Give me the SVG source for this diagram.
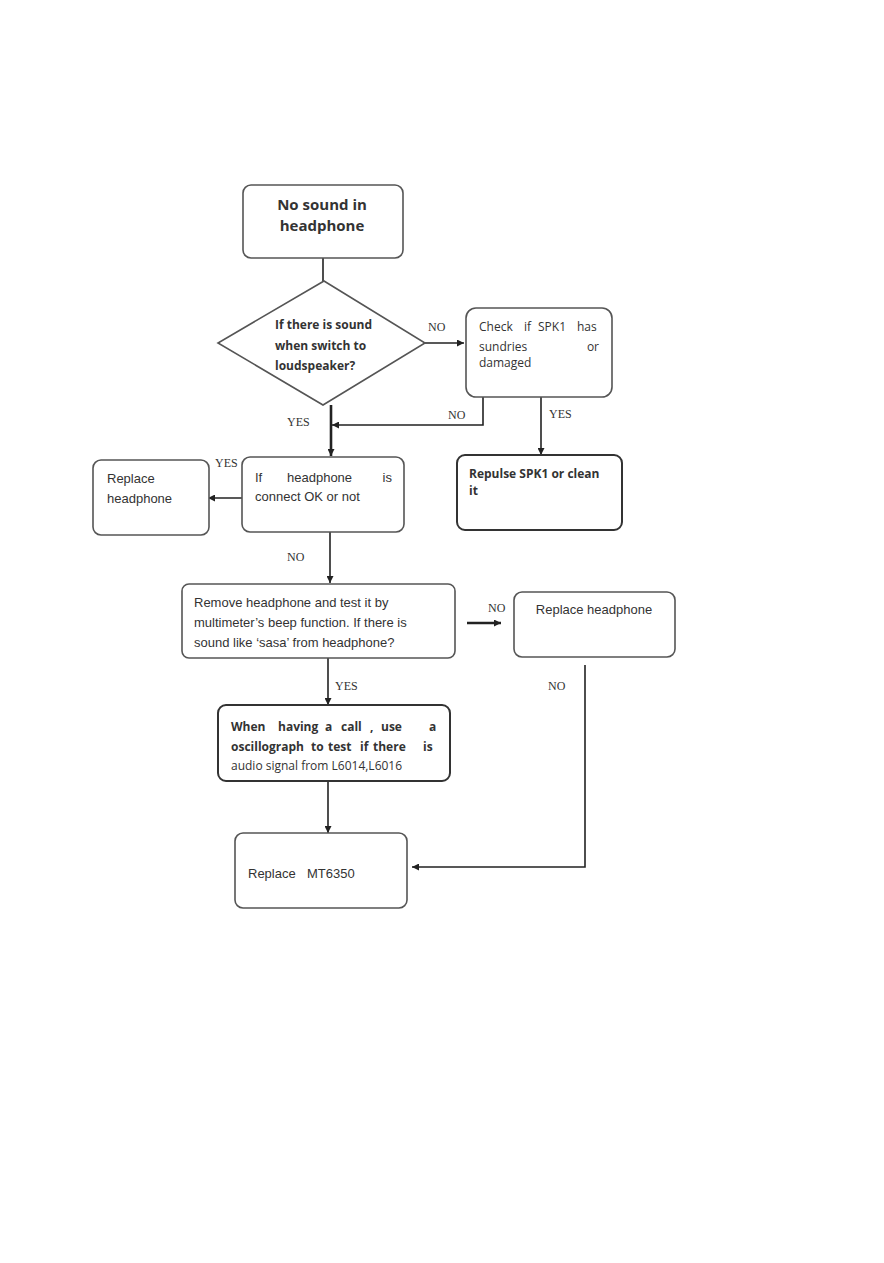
<svg xmlns="http://www.w3.org/2000/svg" width="884" height="1263" viewBox="0 0 884 1263">
<defs>
<marker id="ah" viewBox="0 0 10 10" refX="10" refY="5" markerWidth="7" markerHeight="7" markerUnits="userSpaceOnUse" orient="auto"><path d="M0,0 L10,5 L0,10 z" fill="#222"/></marker>
<style>
.box{fill:#fff;stroke:#555;stroke-width:1.6}
.dark{fill:#fff;stroke:#333;stroke-width:2}
.ln{fill:none;stroke:#222;stroke-width:1.6}
.thk{fill:none;stroke:#222;stroke-width:2.6}
.lbl{font-family:"Liberation Serif",serif;font-size:12px;fill:#333}
.ar{font-family:"Liberation Sans",Arial,sans-serif;font-size:13px;fill:#333}
.cb{font-family:"Open Sans","Noto Sans",sans-serif;font-size:12px;fill:#333}
.cbb{font-family:"Open Sans","Noto Sans",sans-serif;font-size:12px;font-weight:bold;fill:#333}
</style>
</defs>
<rect width="884" height="1263" fill="#fff"/>
<g id="connectors">
<line class="ln" x1="323" y1="258" x2="323" y2="281"/>
<line class="ln" x1="425" y1="343" x2="464" y2="343" marker-end="url(#ah)"/>
<line class="thk" x1="331" y1="405" x2="331" y2="456" marker-end="url(#ah)"/>
<polyline class="ln" points="483,397 483,425 332,425" marker-end="url(#ah)"/>
<line class="ln" x1="541" y1="397" x2="541" y2="455" marker-end="url(#ah)"/>
<line class="ln" x1="242" y1="498" x2="208" y2="498" marker-end="url(#ah)"/>
<line class="ln" x1="330" y1="532" x2="330" y2="583" marker-end="url(#ah)"/>
<line class="thk" x1="467" y1="623" x2="501" y2="623" marker-end="url(#ah)"/>
<line class="ln" x1="328" y1="658" x2="328" y2="705" marker-end="url(#ah)"/>
<line class="ln" x1="328" y1="781" x2="328" y2="833" marker-end="url(#ah)"/>
<polyline class="ln" points="585,665 585,867 412,867" marker-end="url(#ah)"/>
<text class="lbl" x="428" y="331">NO</text>
<text class="lbl" x="448" y="419">NO</text>
<text class="lbl" x="287" y="426">YES</text>
<text class="lbl" x="549" y="418">YES</text>
<text class="lbl" x="215" y="467">YES</text>
<text class="lbl" x="287" y="561">NO</text>
<text class="lbl" x="488" y="612">NO</text>
<text class="lbl" x="335" y="690">YES</text>
<text class="lbl" x="548" y="690">NO</text>
</g>
<g id="n1">
<rect class="box" x="243" y="185" width="160" height="73" rx="8"/>
<text x="322" y="210" text-anchor="middle" font-family="Open Sans,Noto Sans,sans-serif" font-size="15" font-weight="bold" fill="#333">No sound in</text>
<text x="322" y="231" text-anchor="middle" font-family="Open Sans,Noto Sans,sans-serif" font-size="15" font-weight="bold" fill="#333">headphone</text>
</g>
<g id="n2">
<polygon class="box" points="324,281 425,343 323,405 218,343"/>
<text class="cbb" x="275" y="329" font-size="10">If there is sound</text>
<text class="cbb" x="275" y="350" font-size="10">when switch to</text>
<text class="cbb" x="275" y="370" font-size="10">loudspeaker?</text>
</g>
<g id="n3">
<rect class="box" x="466" y="308" width="146" height="89" rx="10"/>
<text class="cb" y="331"><tspan x="479">Check</tspan><tspan x="524">if</tspan><tspan x="538">SPK1</tspan><tspan x="577">has</tspan></text>
<text class="cb" x="479" y="351">sundries</text>
<text class="cb" x="599" y="351" text-anchor="end">or</text>
<text class="cb" x="479" y="367">damaged</text>
</g>
<g id="n4">
<rect class="dark" x="457" y="455" width="165" height="75" rx="8"/>
<text class="cbb" x="469" y="478">Repulse SPK1 or clean</text>
<text class="cbb" x="469" y="495">it</text>
</g>
<g id="n5">
<rect class="box" x="242" y="457" width="162" height="75" rx="8"/>
<text class="ar" x="255" y="482">If</text>
<text class="ar" x="287" y="482">headphone</text>
<text class="ar" x="392" y="482" text-anchor="end">is</text>
<text class="ar" x="255" y="501">connect OK or not</text>
</g>
<g id="n6">
<rect class="box" x="93" y="460" width="116" height="75" rx="8"/>
<text class="ar" x="107" y="483">Replace</text>
<text class="ar" x="107" y="503">headphone</text>
</g>
<g id="n7">
<rect class="box" x="182" y="584" width="273" height="74" rx="7"/>
<text class="ar" x="194" y="607">Remove headphone and test it by</text>
<text class="ar" x="194" y="627">multimeter’s beep function. If there is</text>
<text class="ar" x="194" y="647">sound like ‘sasa’ from headphone?</text>
</g>
<g id="n8">
<rect class="box" x="514" y="592" width="161" height="65" rx="8"/>
<text class="ar" x="594" y="614" text-anchor="middle">Replace headphone</text>
</g>
<g id="n9">
<rect class="dark" x="218" y="705" width="232" height="76" rx="8"/>
<text class="cbb" y="731"><tspan x="231">When</tspan><tspan x="278">having</tspan><tspan x="325">a</tspan><tspan x="341">call</tspan><tspan x="370">,</tspan><tspan x="381">use</tspan><tspan x="429">a</tspan></text>
<text class="cbb" y="751"><tspan x="231">oscillograph</tspan><tspan x="311">to</tspan><tspan x="328">test</tspan><tspan x="360">if</tspan><tspan x="373">there</tspan><tspan x="423">is</tspan></text>
<text class="cb" x="231" y="770">audio signal from L6014,L6016</text>
</g>
<g id="n10">
<rect class="box" x="235" y="833" width="172" height="75" rx="8"/>
<text class="ar" y="878"><tspan x="248">Replace</tspan><tspan x="307">MT6350</tspan></text>
</g>
</svg>
